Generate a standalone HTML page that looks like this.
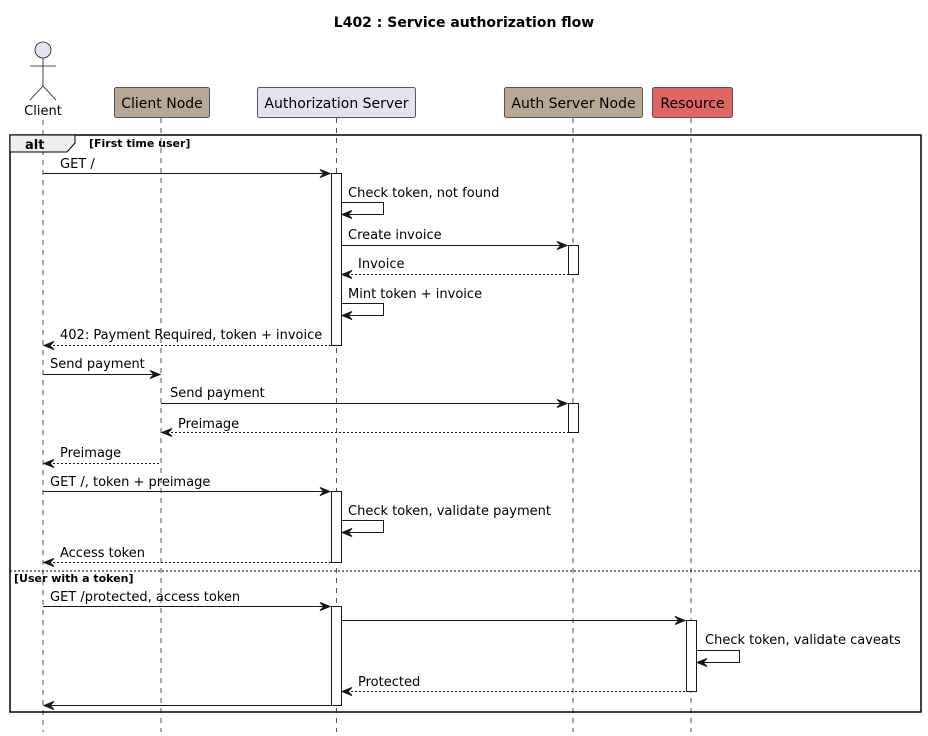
<!DOCTYPE html>
<html><head><meta charset="utf-8"><style>
html,body{margin:0;padding:0;background:#fff;}
svg{display:block;font-family:"DejaVu Sans","Liberation Sans",sans-serif;}
.m{font-size:13px;fill:#000;}
.ll{stroke:#555;stroke-width:1;stroke-dasharray:5,5;}
.s{stroke:#181818;stroke-width:1;fill:none;}
.d{stroke:#181818;stroke-width:1;fill:none;stroke-dasharray:2,2;}
.act{fill:#fff;stroke:#181818;stroke-width:1;}
.ah{fill:#181818;stroke:#181818;}
</style></head><body>
<svg width="928" height="736" viewBox="0 0 928 736" xmlns="http://www.w3.org/2000/svg">
<defs>
<path id="ar" d="M0,0 L-10,-4 L-6,0 L-10,4 Z"/>
<path id="al" d="M0,0 L10,-4 L6,0 L10,4 Z"/>
</defs>
<text x="464" y="27" text-anchor="middle" font-size="14" font-weight="bold">L402 : Service authorization flow</text>

<line class="ll" x1="43" y1="120" x2="43" y2="732"/>
<line class="ll" x1="161" y1="118" x2="161" y2="732"/>
<line class="ll" x1="336.5" y1="118" x2="336.5" y2="732"/>
<line class="ll" x1="573" y1="118" x2="573" y2="732"/>
<line class="ll" x1="691" y1="118" x2="691" y2="732"/>

<circle cx="43" cy="50" r="8" fill="#e2e2f0" stroke="#181818" stroke-width="0.8"/>
<line x1="43" y1="58" x2="43" y2="86" stroke="#181818" stroke-width="0.8"/>
<line x1="30" y1="66" x2="56" y2="66" stroke="#181818" stroke-width="0.8"/>
<line x1="43" y1="86" x2="30" y2="100" stroke="#181818" stroke-width="0.8"/>
<line x1="43" y1="86" x2="56" y2="100" stroke="#181818" stroke-width="0.8"/>
<text x="43" y="115" text-anchor="middle" class="m" font-size="14">Client</text>

<rect x="114.5" y="87.5" width="95" height="30" rx="2" fill="#b8a796" stroke="#555"/>
<text x="162" y="108" text-anchor="middle" font-size="14">Client Node</text>
<rect x="257.5" y="87.5" width="158" height="30" rx="2" fill="#e2e2f0" stroke="#555"/>
<text x="336.5" y="108" text-anchor="middle" font-size="14">Authorization Server</text>
<rect x="504.5" y="87.5" width="138" height="30" rx="2" fill="#b8a796" stroke="#555"/>
<text x="573.5" y="108" text-anchor="middle" font-size="14">Auth Server Node</text>
<rect x="652.5" y="87.5" width="80" height="30" rx="2" fill="#e06666" stroke="#555"/>
<text x="692.5" y="108" text-anchor="middle" font-size="14">Resource</text>

<rect x="10" y="135" width="911" height="577" fill="none" stroke="#000" stroke-width="1.5"/>
<path d="M10,135 L75,135 L75,143 L67,152 L10,152 Z" fill="#eee" stroke="#000" stroke-width="1"/>
<text x="25" y="149" font-size="13" font-weight="bold">alt</text>
<text x="89" y="147" font-size="11" font-weight="bold">[First time user]</text>
<line x1="10" y1="571" x2="921" y2="571" stroke="#000" stroke-dasharray="2,2"/>
<text x="14" y="582" font-size="11" font-weight="bold">[User with a token]</text>

<rect class="act" x="331.5" y="173.5" width="10" height="172"/>
<rect class="act" x="568.5" y="245.5" width="10" height="29"/>
<rect class="act" x="568.5" y="403.5" width="10" height="29"/>
<rect class="act" x="331.5" y="491.5" width="10" height="71"/>
<rect class="act" x="331.5" y="606.5" width="10" height="99"/>
<rect class="act" x="686.5" y="620.5" width="10" height="71"/>

<text x="60" y="168" class="m">GET /</text>
<line class="s" x1="43" y1="173.5" x2="330" y2="173.5"/><use href="#ar" x="330" y="173.5" class="ah"/>

<text x="348" y="197" class="m">Check token, not found</text>
<polyline class="s" points="341.5,202.5 383.5,202.5 383.5,214.5 343,214.5"/><use href="#al" x="342" y="214.5" class="ah"/>

<text x="348" y="239" class="m">Create invoice</text>
<line class="s" x1="341.5" y1="245.5" x2="567" y2="245.5"/><use href="#ar" x="567" y="245.5" class="ah"/>

<text x="358" y="268" class="m">Invoice</text>
<line class="d" x1="343" y1="274.5" x2="568" y2="274.5"/><use href="#al" x="342" y="274.5" class="ah"/>

<text x="348" y="298" class="m">Mint token + invoice</text>
<polyline class="s" points="341.5,303.5 383.5,303.5 383.5,315.5 343,315.5"/><use href="#al" x="342" y="315.5" class="ah"/>

<text x="60" y="339" class="m">402: Payment Required, token + invoice</text>
<line class="d" x1="45" y1="345.5" x2="331" y2="345.5"/><use href="#al" x="44" y="345.5" class="ah"/>

<text x="50" y="368" class="m">Send payment</text>
<line class="s" x1="43" y1="374.5" x2="160" y2="374.5"/><use href="#ar" x="160" y="374.5" class="ah"/>

<text x="170" y="397" class="m">Send payment</text>
<line class="s" x1="161" y1="403.5" x2="567" y2="403.5"/><use href="#ar" x="567" y="403.5" class="ah"/>

<text x="178" y="428" class="m">Preimage</text>
<line class="d" x1="163" y1="432.5" x2="568" y2="432.5"/><use href="#al" x="162" y="432.5" class="ah"/>

<text x="60" y="457" class="m">Preimage</text>
<line class="d" x1="45" y1="463.5" x2="161" y2="463.5"/><use href="#al" x="44" y="463.5" class="ah"/>

<text x="50" y="486" class="m">GET /, token + preimage</text>
<line class="s" x1="43" y1="491.5" x2="330" y2="491.5"/><use href="#ar" x="330" y="491.5" class="ah"/>

<text x="348" y="515" class="m">Check token, validate payment</text>
<polyline class="s" points="341.5,520.5 383.5,520.5 383.5,532.5 343,532.5"/><use href="#al" x="342" y="532.5" class="ah"/>

<text x="60" y="557" class="m">Access token</text>
<line class="d" x1="45" y1="562.5" x2="331" y2="562.5"/><use href="#al" x="44" y="562.5" class="ah"/>

<text x="50" y="601" class="m">GET /protected, access token</text>
<line class="s" x1="43" y1="606.5" x2="330" y2="606.5"/><use href="#ar" x="330" y="606.5" class="ah"/>

<line class="s" x1="341.5" y1="620.5" x2="685" y2="620.5"/><use href="#ar" x="685" y="620.5" class="ah"/>

<text x="705" y="644" class="m">Check token, validate caveats</text>
<polyline class="s" points="696.5,650.5 739.5,650.5 739.5,662.5 698,662.5"/><use href="#al" x="697" y="662.5" class="ah"/>

<text x="358" y="686" class="m">Protected</text>
<line class="d" x1="343" y1="691.5" x2="686" y2="691.5"/><use href="#al" x="342" y="691.5" class="ah"/>

<line class="s" x1="45" y1="705.5" x2="331" y2="705.5"/><use href="#al" x="44" y="705.5" class="ah"/>
</svg>
</body></html>
